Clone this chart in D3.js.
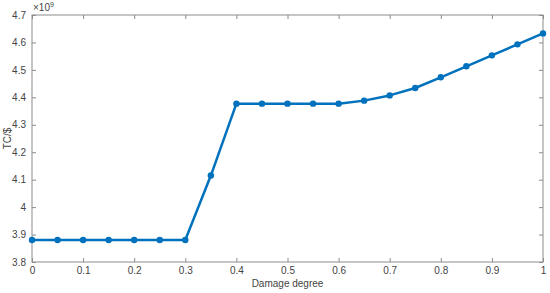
<!DOCTYPE html>
<html><head><meta charset="utf-8">
<script src="https://cdn.jsdelivr.net/npm/d3@7"></script>
<style>body{margin:0;background:#fff}svg{display:block}</style>
</head><body>
<svg id="c" width="550" height="293"></svg>
<script>
const damage = [0,0.05,0.1,0.15,0.2,0.25,0.3,0.35,0.4,0.45,0.5,0.55,0.6,0.65,0.7,0.75,0.8,0.85,0.9,0.95,1];
const tc = [3.88,3.88,3.88,3.88,3.88,3.88,3.88,4.115,4.377,4.377,4.377,4.377,4.377,4.388,4.407,4.434,4.473,4.513,4.553,4.593,4.633];
const xTicks = [0,0.1,0.2,0.3,0.4,0.5,0.6,0.7,0.8,0.9,1];
const yTicks = [3.8,3.9,4,4.1,4.2,4.3,4.4,4.5,4.6,4.7];

const m = {l:32, t:15, r:543, b:262};
const svg = d3.select('#c');
const x = d3.scaleLinear().domain([0,1]).range([m.l, m.r]);
const y = d3.scaleLinear().domain([3.8,4.7]).range([m.b, m.t]);
const axCol = '#8c8c8c', txtCol = '#444';
const font = 'Liberation Sans, Arial, sans-serif';

// box
svg.append('rect').attr('x',m.l).attr('y',m.t).attr('width',m.r-m.l).attr('height',m.b-m.t)
  .attr('fill','none').attr('stroke',axCol).attr('stroke-width',1);

const tl = 4;
const gx = svg.append('g').attr('transform',`translate(0,${m.b})`)
  .call(d3.axisBottom(x).tickValues(xTicks).tickSize(-tl).tickPadding(5).tickFormat(d3.format('~g')));
const gxt = svg.append('g').attr('transform',`translate(0,${m.t})`)
  .call(d3.axisTop(x).tickValues(xTicks).tickSize(-tl).tickFormat(''));
const gy = svg.append('g').attr('transform',`translate(${m.l},0)`)
  .call(d3.axisLeft(y).tickValues(yTicks).tickSize(-tl).tickPadding(6).tickFormat(d3.format('~g')));
const gyr = svg.append('g').attr('transform',`translate(${m.r},0)`)
  .call(d3.axisRight(y).tickValues(yTicks).tickSize(-tl).tickFormat(''));
[gx,gxt,gy,gyr].forEach(g=>{
  g.select('.domain').remove();
  g.selectAll('line').attr('stroke',axCol);
  g.selectAll('text').attr('fill',txtCol).style('font-family',font).style('font-size','10px');
});

// line
svg.append('path').datum(damage.map((d,i)=>[d,tc[i]]))
  .attr('fill','none').attr('stroke','#0072BD').attr('stroke-width',2.5)
  .attr('stroke-linejoin','round')
  .attr('d', d3.line().x(d=>x(d[0])).y(d=>y(d[1])));
svg.append('g').selectAll('circle').data(damage.map((d,i)=>[d,tc[i]])).join('circle')
  .attr('cx',d=>x(d[0])).attr('cy',d=>y(d[1])).attr('r',3.2).attr('fill','#0072BD');

// exponent
const ex = svg.append('text').attr('x',m.l+1).attr('y',m.t-4).attr('fill',txtCol)
  .style('font-family',font).style('font-size','10px');
ex.append('tspan').text('×10');
ex.append('tspan').attr('dy',-4).style('font-size','7px').text('9');

// labels
svg.append('text').attr('x',(m.l+m.r)/2).attr('y',287).attr('text-anchor','middle')
  .attr('fill',txtCol).style('font-family',font).style('font-size','10px').text('Damage degree');
svg.append('text').attr('transform',`translate(11,${(m.t+m.b)/2}) rotate(-90)`).attr('text-anchor','middle')
  .attr('fill',txtCol).style('font-family',font).style('font-size','10px').text('TC/$');
</script>
</body></html>
